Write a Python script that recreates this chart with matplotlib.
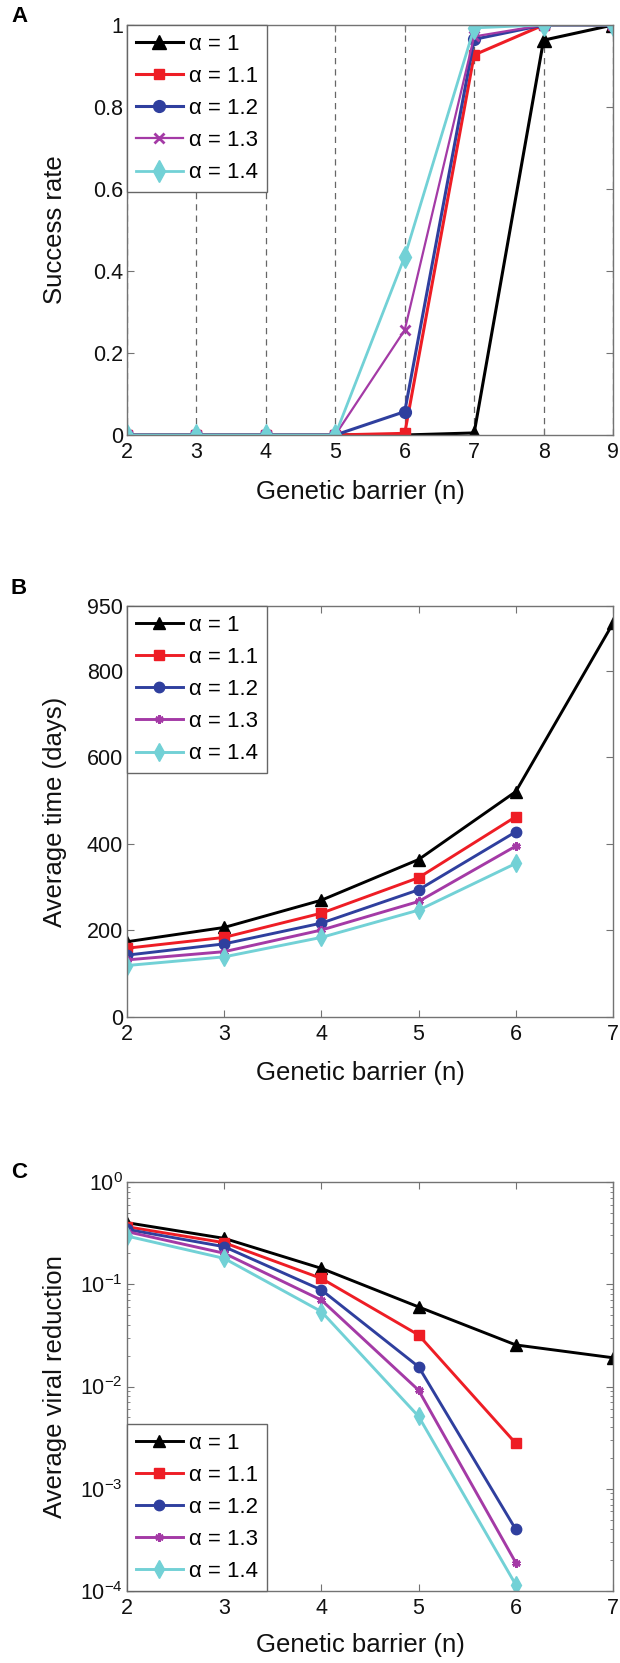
import numpy as np
import matplotlib
matplotlib.use("Agg")
import matplotlib.pyplot as plt
from matplotlib.ticker import LogLocator, NullFormatter

# data
alphas = ['1', '1.1', '1.2', '1.3', '1.4']

n_a = [2, 3, 4, 5, 6, 7, 8, 9]
success_a1 = [0, 0, 0, 0, 0, 0.005, 0.963, 1.0]
success_a11 = [0, 0, 0, 0, 0.004, 0.927, 1.0, 1.0]
success_a12 = [0, 0, 0, 0, 0.057, 0.965, 1.0, 1.0]
success_a13 = [0, 0, 0, 0, 0.256, 0.972, 1.0, 1.0]
success_a14 = [0, 0, 0, 0, 0.435, 0.993, 1.0, 1.0]

n_b1 = [2, 3, 4, 5, 6, 7]
n_b = [2, 3, 4, 5, 6]
time_a1 = [174, 207, 270, 364, 521, 910]
time_a11 = [159, 184, 240, 322, 463]
time_a12 = [143, 169, 217, 294, 428]
time_a13 = [132, 151, 201, 267, 395]
time_a14 = [119, 139, 184, 247, 355]

n_c1 = [2, 3, 4, 5, 6, 7]
n_c = [2, 3, 4, 5, 6]
viral_a1 = [0.40, 0.281, 0.143, 0.060, 0.0255, 0.0191]
viral_a11 = [0.365, 0.255, 0.114, 0.0319, 0.00278]
viral_a12 = [0.344, 0.233, 0.088, 0.0156, 0.0004]
viral_a13 = [0.327, 0.201, 0.070, 0.0092, 0.000189]
viral_a14 = [0.296, 0.179, 0.054, 0.0051, 0.000115]

colors = ['#000000', '#ee1d25', '#2f3f9e', '#a43aa6', '#72d1d6']
tick_font = ['Liberation Sans Narrow', 'Liberation Sans', 'DejaVu Sans']
label_font = ['Liberation Sans', 'DejaVu Sans']

plt.rcParams['font.family'] = tick_font
plt.rcParams['mathtext.fontset'] = 'custom'
plt.rcParams['mathtext.rm'] = 'Liberation Sans Narrow'

W, H = 620, 1663
fig = plt.figure(figsize=(W / 100, H / 100), dpi=100)


def make_axes(top, bottom, left=127, right=613):
    return fig.add_axes([left / W, 1 - bottom / H, (right - left) / W, (bottom - top) / H])


def style(ax, ylabel, xlab_y):
    for s in ax.spines.values():
        s.set_color('0.45')
        s.set_linewidth(1.0)
    ax.tick_params(which='both', direction='in', top=True, right=True,
                   color='0.45', labelsize=15.5, labelcolor='#111111')
    ax.tick_params(which='major', length=5)
    ax.tick_params(which='minor', length=2.5)
    ax.tick_params(axis='y', pad=3)
    ax.tick_params(axis='x', pad=5)
    ax.set_xlabel('Genetic barrier (n)', fontsize=18.5, family=label_font, color='#111111')
    ax.set_ylabel(ylabel, fontsize=18.5, family=label_font, color='#111111')
    ax.xaxis.label.set_va('center')
    ax.yaxis.label.set_va('center')
    ax.xaxis.set_label_coords(0.48, xlab_y)
    ax.yaxis.set_label_coords(-0.148, 0.5)


def add_legend(ax, loc, anchor):
    leg = ax.legend(loc=loc, bbox_to_anchor=anchor, borderaxespad=0,
                    fancybox=False, framealpha=1, edgecolor='0.4',
                    prop={'family': tick_font, 'size': 16},
                    handlelength=2.1, handletextpad=0.3,
                    labelspacing=0.5, borderpad=0.4, numpoints=1)
    leg.get_frame().set_linewidth(1.0)
    return leg


# panel A
axA = make_axes(25, 435)
seriesA = [success_a1, success_a11, success_a12, success_a13, success_a14]
markersA = ['^', 's', 'o', 'x', 'd']
msA = [10, 7.5, 8.5, 7, 11]
lwA = [2.2, 2.2, 2.2, 1.6, 2.0]
for vals, c, m, ms, lw, a in zip(seriesA, colors, markersA, msA, lwA, alphas):
    axA.plot(n_a, vals, color=c, marker=m, markersize=ms, lw=lw,
             markeredgewidth=2 if m == 'x' else 1, label='α = ' + a)
axA.set_xlim(2, 9)
axA.set_ylim(0, 1)
axA.set_xticks(n_a)
axA.set_yticks([0, 0.2, 0.4, 0.6, 0.8, 1])
axA.set_yticklabels(['0', '0.2', '0.4', '0.6', '0.8', '1'])
axA.grid(axis='x', ls=(0, (5, 4)), color='0.4', lw=0.9)
axA.set_axisbelow(True)
style(axA, 'Success rate', -0.139)
add_legend(axA, 'upper left', (0, 1))

# panel B
axB = make_axes(606, 1017)
xsB = [n_b1, n_b, n_b, n_b, n_b]
seriesB = [time_a1, time_a11, time_a12, time_a13, time_a14]
markersB = ['^', 's', 'o', (6, 2, 0), 'd']
msB = [9, 7, 7.5, 6, 9]
for xs, vals, c, m, ms, a in zip(xsB, seriesB, colors, markersB, msB, alphas):
    axB.plot(xs, vals, color=c, marker=m, markersize=ms, lw=2.1,
             markeredgewidth=2 if m == (6, 2, 0) else 1, label='α = ' + a)
axB.set_xlim(2, 7)
axB.set_ylim(0, 950)
axB.set_xticks(n_b1)
axB.set_yticks([0, 200, 400, 600, 800, 950])
style(axB, 'Average time (days)', -0.136)
add_legend(axB, 'upper left', (0, 1))

# panel C
axC = make_axes(1182, 1591)
xsC = [n_c1, n_c, n_c, n_c, n_c]
seriesC = [viral_a1, viral_a11, viral_a12, viral_a13, viral_a14]
for xs, vals, c, m, ms, a in zip(xsC, seriesC, colors, markersB, msB, alphas):
    axC.plot(xs, vals, color=c, marker=m, markersize=ms, lw=2.1,
             markeredgewidth=2 if m == (6, 2, 0) else 1, label='α = ' + a)
axC.set_yscale('log')
axC.set_xlim(2, 7)
axC.set_ylim(1e-4, 1)
axC.set_xticks(n_c1)
axC.set_yticks([1e-4, 1e-3, 1e-2, 1e-1, 1])
axC.set_yticklabels([r'$\mathregular{10^{-4}}$', r'$\mathregular{10^{-3}}$',
                     r'$\mathregular{10^{-2}}$', r'$\mathregular{10^{-1}}$',
                     r'$\mathregular{10^{0}}$'])
axC.yaxis.set_minor_locator(LogLocator(base=10, subs=np.arange(2, 10)))
axC.yaxis.set_minor_formatter(NullFormatter())
style(axC, 'Average viral reduction', -0.132)
add_legend(axC, 'lower left', (0, 0))

# panel letters
for letter, y in [('A', 16), ('B', 588), ('C', 1172)]:
    fig.text(19 / W, 1 - y / H, letter, ha='center', va='center',
             fontsize=16, fontweight='bold', family=label_font)

fig.savefig('out.png', dpi=100)
